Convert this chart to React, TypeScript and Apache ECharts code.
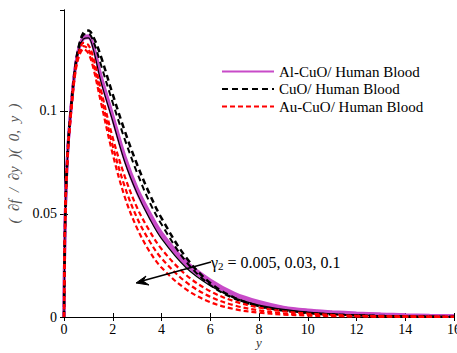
import React, { useEffect, useRef } from "react";
import * as echarts from "echarts";

const xs = [0, 0.05, 0.15, 0.3, 0.45, 0.6, 0.8, 1.0, 1.2, 1.5, 2, 2.5, 3, 3.5, 4, 5, 6, 7, 8, 9, 10, 11, 12, 13, 14, 15, 16];

// Al-CuO / Human Blood (three gamma_2 values)
const alCuO1 = [0, 0.048, 0.08, 0.103, 0.12, 0.13, 0.136, 0.1365, 0.132, 0.118, 0.098, 0.078, 0.0625, 0.051, 0.041, 0.027, 0.018, 0.0115, 0.0075, 0.0048, 0.0034, 0.0026, 0.002, 0.0015, 0.0011, 0.0008, 0.0006];
const alCuO2 = [0, 0.048, 0.08, 0.103, 0.12, 0.13, 0.1355, 0.136, 0.1315, 0.117, 0.097, 0.077, 0.0615, 0.05, 0.0402, 0.0262, 0.0172, 0.011, 0.0071, 0.0045, 0.0031, 0.0023, 0.0017, 0.0013, 0.0009, 0.0007, 0.0005];
const alCuO3 = [0, 0.048, 0.08, 0.103, 0.12, 0.1295, 0.135, 0.1355, 0.131, 0.116, 0.096, 0.076, 0.0605, 0.049, 0.0393, 0.0254, 0.0165, 0.0104, 0.0066, 0.0042, 0.0028, 0.002, 0.0015, 0.0011, 0.0008, 0.0006, 0.0004];

// CuO / Human Blood
const cuO1 = [0, 0.048, 0.08, 0.103, 0.12, 0.131, 0.138, 0.139, 0.136, 0.127, 0.108, 0.09, 0.074, 0.06, 0.048, 0.029, 0.0165, 0.0093, 0.0053, 0.0031, 0.0019, 0.0012, 0.0008, 0.0005, 0.0003, 0.0002, 0.0001];
const cuO2 = [0, 0.048, 0.08, 0.103, 0.12, 0.1295, 0.135, 0.1355, 0.13, 0.115, 0.095, 0.075, 0.06, 0.048, 0.038, 0.024, 0.0152, 0.0093, 0.0058, 0.0037, 0.0024, 0.0015, 0.001, 0.0006, 0.0004, 0.0002, 0.0001];
const cuO3 = [0, 0.048, 0.08, 0.103, 0.12, 0.1305, 0.137, 0.1375, 0.134, 0.123, 0.104, 0.086, 0.07, 0.056, 0.045, 0.027, 0.0155, 0.0088, 0.0052, 0.0032, 0.002, 0.0013, 0.0008, 0.0005, 0.0003, 0.0002, 0.0001];

// Au-CuO / Human Blood
const auCuO1 = [0, 0.048, 0.079, 0.102, 0.119, 0.128, 0.133, 0.132, 0.126, 0.111, 0.087, 0.068, 0.053, 0.042, 0.033, 0.0205, 0.0125, 0.0076, 0.0046, 0.0028, 0.0017, 0.001, 0.0006, 0.0004, 0.0003, 0.0002, 0.0001];
const auCuO2 = [0, 0.048, 0.079, 0.101, 0.118, 0.127, 0.1315, 0.13, 0.123, 0.108, 0.083, 0.063, 0.048, 0.037, 0.0285, 0.017, 0.0098, 0.0056, 0.0032, 0.0018, 0.001, 0.0006, 0.0004, 0.0003, 0.0002, 0.0001, 0.0001];
const auCuO3 = [0, 0.048, 0.079, 0.1, 0.117, 0.126, 0.13, 0.128, 0.121, 0.105, 0.079, 0.058, 0.043, 0.032, 0.024, 0.0135, 0.0072, 0.0038, 0.0021, 0.0012, 0.0007, 0.0004, 0.0003, 0.0002, 0.0001, 0.0001, 0];

const xTicks = [0, 2, 4, 6, 8, 10, 12, 14, 16];
const yTickLabels: Record<string, string> = { "0": "0", "0.05": "0.05", "0.1": "0.1" };

const seriesNames = ["Al-CuO/ Human Blood", "CuO/ Human Blood", "Au-CuO/ Human Blood"];

const FONT = "Times New Roman, Liberation Serif, DejaVu Serif, serif";

function pairs(ys: number[]) {
  return xs.map((x, i) => [x, ys[i]]);
}

export default function App() {
  const ref = useRef<HTMLDivElement>(null);
  useEffect(() => {
    if (!ref.current) return;
    const chart = echarts.init(ref.current, null, { renderer: "svg" });
    const mag = "#C84BC8";
    const mk = (name: string, ys: number[], color: string, width: number, type: any) => ({
      name,
      type: "line",
      data: pairs(ys),
      smooth: 0.35,
      showSymbol: false,
      symbol: "none",
      xAxisIndex: 0,
      yAxisIndex: 0,
      lineStyle: { color, width, type },
      itemStyle: { color },
    });
    const dashB = [6, 4];
    const dashR = [5, 3];
    const series: any[] = [
      mk(seriesNames[0], alCuO1, mag, 3, "solid"),
      mk(seriesNames[0], alCuO2, mag, 3, "solid"),
      mk(seriesNames[0], alCuO3, mag, 3, "solid"),
      mk(seriesNames[1], cuO1, "#000000", 2.5, dashB),
      mk(seriesNames[1], cuO2, "#000000", 1.2, "solid"),
      mk(seriesNames[1], cuO3, "#000000", 2, dashB),
      mk(seriesNames[2], auCuO1, "#FF0000", 2.2, dashR),
      mk(seriesNames[2], auCuO2, "#FF0000", 2.2, dashR),
      mk(seriesNames[2], auCuO3, "#FF0000", 2.2, dashR),
    ];
    const axisLine = { show: true, lineStyle: { color: "#000", width: 1 } };
    const tick = { show: true, inside: true, length: 4, lineStyle: { color: "#000" } };
    const xmin = xTicks[0];
    const xmax = xTicks[xTicks.length - 1];
    chart.setOption({
      animation: false,
      backgroundColor: "#ffffff",
      textStyle: { fontFamily: FONT },
      grid: { left: 64, right: 3, top: 10, bottom: 36, outerBoundsMode: "none", containLabel: false },
      legend: {
        data: seriesNames,
        orient: "vertical",
        left: 216,
        top: 59,
        itemWidth: 52,
        itemHeight: 14,
        itemGap: 2.5,
        itemStyle: { opacity: 0 },
        textStyle: { fontFamily: FONT, fontSize: 15, color: "#000" },
      },
      xAxis: [
        {
          type: "value",
          min: xmin,
          max: xmax,
          interval: 2,
          position: "bottom",
          name: "y",
          nameLocation: "middle",
          nameGap: 19,
          nameMoveOverlap: false,
          nameTextStyle: { fontFamily: FONT, fontStyle: "italic", fontSize: 13, color: "#333" },
          axisLine,
          axisTick: tick,
          splitLine: { show: false },
          axisLabel: { fontFamily: FONT, fontSize: 14, color: "#000", margin: 5 },
        },
        {
          type: "value",
          min: xmin,
          max: xmax,
          interval: 2,
          position: "top",
          axisLine,
          axisTick: tick,
          splitLine: { show: false },
          axisLabel: { show: false },
        },
      ],
      yAxis: [
        {
          type: "value",
          min: 0,
          max: 0.149,
          interval: 0.05,
          position: "left",
          name: "(  ∂f  /  ∂y  )(  0,  y  )",
          nameLocation: "middle",
          nameGap: 39,
          nameTextStyle: { fontFamily: FONT, fontStyle: "italic", fontSize: 15, color: "#555" },
          axisLine,
          axisTick: tick,
          splitLine: { show: false },
          axisLabel: {
            fontFamily: FONT,
            fontSize: 14,
            color: "#000",
            margin: 7,
            showMaxLabel: false,
            formatter: (v: number) => {
              const k = String(Math.round(v * 1000) / 1000);
              return yTickLabels[k] ?? "";
            },
          },
        },
        {
          type: "value",
          min: 0,
          max: 0.149,
          interval: 0.05,
          position: "right",
          axisLine,
          axisTick: tick,
          splitLine: { show: false },
          axisLabel: { show: false },
        },
      ],
      graphic: [
        {
          type: "line",
          shape: { x1: 211, y1: 262, x2: 142, y2: 281 },
          style: { stroke: "#000", lineWidth: 1.6 },
          z: 100,
        },
        {
          type: "polygon",
          shape: { points: [[136, 283], [146, 276], [143, 281], [149, 285]] },
          style: { fill: "#000", stroke: "#000", lineWidth: 1 },
          z: 100,
        },
        {
          type: "text",
          left: 211,
          top: 254,
          z: 100,
          style: {
            text: "{g|γ}{s|2}{t| = 0.005, 0.03, 0.1}",
            rich: {
              g: { fontFamily: FONT, fontSize: 16, fill: "#000" },
              s: { fontFamily: FONT, fontSize: 11, fill: "#000", padding: [8, 0, 0, 0] },
              t: { fontFamily: FONT, fontSize: 16, fill: "#000" },
            },
          } as any,
        },
      ],
      series,
    });
    return () => chart.dispose();
  }, []);
  return (
    <div
      ref={ref}
      style={{ position: "fixed", left: 0, top: 0, width: 457, height: 353, background: "#fff" }}
    />
  );
}
